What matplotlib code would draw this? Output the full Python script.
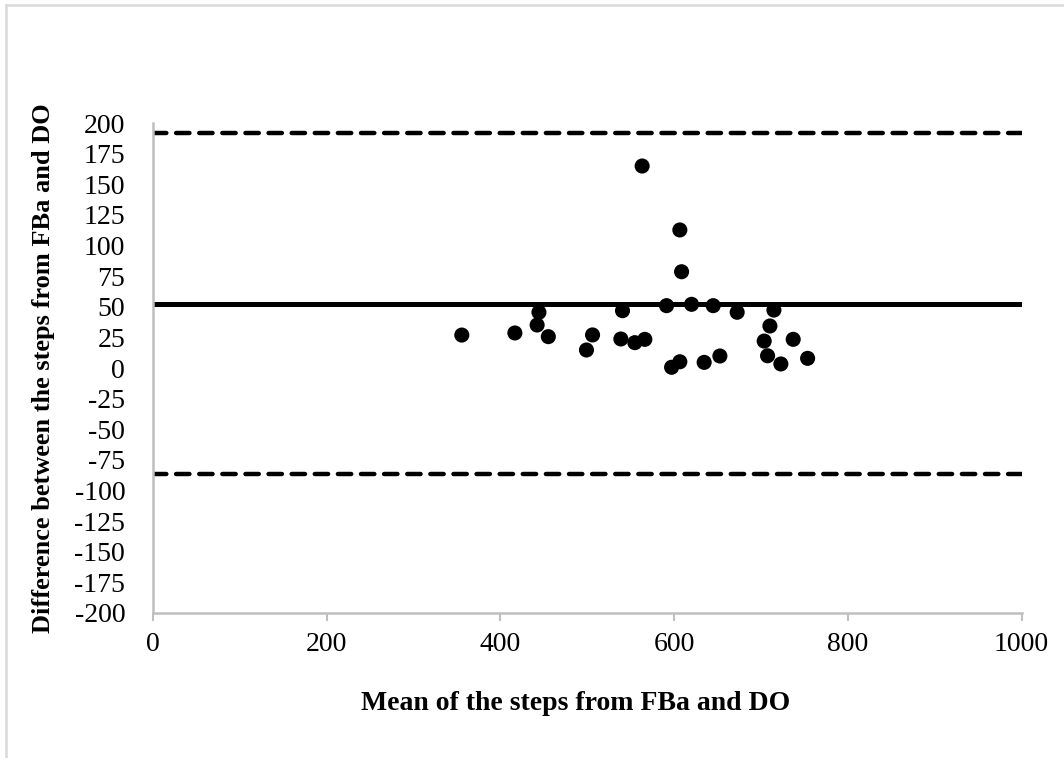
import numpy as np
import matplotlib
matplotlib.use("Agg")
import matplotlib.pyplot as plt
from matplotlib.lines import Line2D

# Bland-Altman data: mean of both step counts vs. their difference
mean_steps = [355.5, 416.6, 444.3, 442.2, 455.1, 506.0, 499.0, 540.5, 538.6,
              563.1, 606.5, 608.5, 591.2, 620.0, 644.9, 672.5, 714.8, 710.2,
              703.6, 737.0, 707.5, 722.8, 753.6, 554.7, 566.2, 597.0, 606.5,
              634.5, 652.6]
diff_steps = [26.9, 28.6, 45.5, 35.1, 25.6, 27.0, 14.7, 46.8, 23.7,
              164.9, 112.7, 78.6, 50.9, 52.0, 50.9, 45.5, 47.3, 34.3,
              22.0, 23.4, 10.0, 3.3, 7.9, 20.7, 23.4, 0.6, 5.1,
              4.6, 9.8]
bias = 52.5
upper_loa = 191.5
lower_loa = -86.5

x_ticks = [0, 200, 400, 600, 800, 1000]
y_ticks = list(range(-200, 201, 25))

plt.rcParams['font.family'] = 'Liberation Serif'
plt.rcParams['axes.unicode_minus'] = False

fig = plt.figure(figsize=(10.64, 7.58), dpi=100)
ax = fig.add_axes([0.1438, 0.1913, 0.8164, 0.6464])

ax.axhline(bias, color='black', linewidth=3.6, zorder=2)
for lim in (upper_loa, lower_loa):
    ax.axhline(lim, color='black', linewidth=3.2, linestyle=(0, (3.0, 2.2)),
               dash_capstyle='round', zorder=2)
ax.scatter(mean_steps, diff_steps, s=118, color='black', edgecolors='none', zorder=3)

ax.set_xlim(0, 1000)
ax.set_ylim(-200, 200)
ax.set_xticks(x_ticks)
ax.set_yticks(y_ticks)
ax.tick_params(axis='x', length=6, width=1.5, color='#bfbfbf', labelsize=20, pad=8)
ax.tick_params(axis='y', length=0, labelsize=20, pad=20)

for side in ('top', 'right'):
    ax.spines[side].set_visible(False)
for side in ('left', 'bottom'):
    ax.spines[side].set_color('#bfbfbf')
    ax.spines[side].set_linewidth(1.8)

ax.set_xlabel('Mean of the steps from FBa and DO', fontsize=20, fontweight='bold')
ax.xaxis.set_label_coords(0.487, -0.16)
ax.set_ylabel('Difference between the steps from FBa and DO', fontsize=19, fontweight='bold',
              labelpad=14)

# chart area frame (only top and left edges fall inside the canvas)
fig.add_artist(Line2D([0.0055, 0.0055], [0, 0.9935], transform=fig.transFigure,
                      color='#d9d9d9', linewidth=1.8))
fig.add_artist(Line2D([0.0055, 1.0], [0.9935, 0.9935], transform=fig.transFigure,
                      color='#d9d9d9', linewidth=1.8))

fig.savefig('out.png', dpi=100)
